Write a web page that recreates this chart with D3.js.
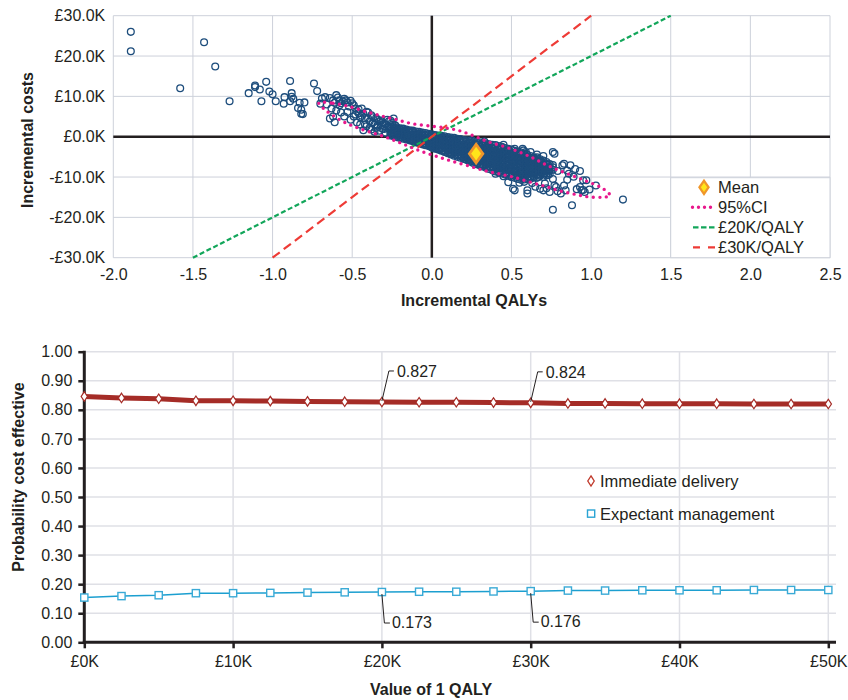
<!DOCTYPE html>
<html>
<head>
<meta charset="utf-8">
<script src="https://cdn.jsdelivr.net/npm/d3@7"></script>
<style>
  body { margin: 0; background: #fff; }
  svg { font-family: "Liberation Sans", Arial, sans-serif; }
  .tick text { fill: #231f20; font-size: 16px; }
  .title { font-weight: bold; font-size: 16px; fill: #231f20; }
</style>
</head>
<body>
<div id="chart"></div>
<script>
// ---------- data: cost-effectiveness plane ----------
// outlying simulations [incremental QALYs, incremental cost in £K]
var outliers = [
  [-1.89, 26.0], [-1.89, 21.2], [-1.43, 23.4], [-1.36, 17.4], [-1.58, 12.0], [-1.27, 8.8],
  [-1.15, 10.8], [-1.11, 12.7], [-1.11, 12.3], [-1.08, 11.7], [-1.07, 8.8], [-1.04, 13.6],
  [-1.02, 11.2], [-1.00, 10.5], [-0.98, 8.8], [-0.93, 8.2], [-0.925, 9.8], [-0.89, 13.8],
  [-0.88, 10.8], [-0.88, 9.9], [-0.89, 8.8], [-0.84, 7.1], [-0.83, 8.4], [-0.82, 6.7],
  [-0.81, 5.6], [-0.80, 8.5], [-0.74, 13.2], [-0.72, 11.3], [-0.87, 9.4], [-0.82, 5.7],
  [1.20, -15.6], [0.76, -18.1], [0.88, -17.0], [1.03, -12.1], [0.95, -13.2], [0.96, -13.7],
  [0.91, -13.0], [0.87, -7.1], [0.82, -7.1], [0.77, -4.2], [0.93, -8.5], [0.85, -8.4],
  [0.89, -9.9], [0.83, -12.1], [0.81, -14.1], [0.79, -13.5], [0.74, -13.7], [0.70, -13.3],
  [0.71, -11.6], [0.60, -14.1], [0.60, -13.3], [0.52, -13.3], [0.48, -11.3], [0.67, -10.0],
  [0.73, -9.5], [0.66, -5.1], [0.70, -4.8], [0.59, -3.8], [0.52, -3.0], [0.97, -10.8],
  [0.85, -10.7], [0.77, -12.1], [0.76, -3.8], [0.83, -6.7], [0.90, -8.0], [0.51, -12.9],
  [0.68, -12.9], [0.78, -12.5], [0.84, -13.3], [0.93, -12.5], [0.95, -10.8], [0.94, -13.3],
  [0.99, -13.1], [0.575, -3.4], [0.25, -0.8], [0.33, -1.2], [0.45, -2.0], [0.57, -3.0],
  [0.62, -3.8], [0.66, -4.4], [0.79, -8.5], [0.86, -9.2], [0.76, -10.5], [0.72, -12.8],
  [0.63, -11.5], [0.65, -12.4], [0.58, -11.2], [0.55, -11.4], [0.45, -9.8], [0.40, -9.2]
];

// moderately dense band left of the origin
var bandLeft = [
  [-0.70, 8.2], [-0.69, 9.5], [-0.67, 9.8], [-0.66, 8.0], [-0.64, 4.5], [-0.63, 7.0],
  [-0.62, 9.0], [-0.61, 3.6], [-0.60, 10.3], [-0.59, 9.7], [-0.58, 7.8], [-0.57, 6.0],
  [-0.56, 8.8], [-0.55, 5.0], [-0.54, 9.0], [-0.53, 6.1], [-0.52, 7.5], [-0.51, 4.2],
  [-0.50, 8.3], [-0.49, 7.8], [-0.48, 5.5], [-0.47, 3.5], [-0.46, 6.8], [-0.45, 4.8],
  [-0.44, 7.0], [-0.43, 5.7], [-0.43, 1.6], [-0.42, 3.0], [-0.41, 6.2], [-0.40, 4.5],
  [-0.39, 2.2], [-0.38, 5.3], [-0.37, 3.5], [-0.36, 1.2], [-0.35, 4.6], [-0.34, 2.8],
  [-0.33, 3.8], [-0.32, 4.0], [-0.31, 2.0], [-0.30, 3.2], [-0.29, 1.0], [-0.28, 4.2],
  [-0.27, 2.5], [-0.25, 3.5], [-0.24, 4.5], [-0.23, 2.8], [-0.55, 9.4], [-0.51, 8.9],
  [-0.49, 5.0], [-0.47, 6.3], [-0.45, 3.0], [-0.44, 5.2], [-0.42, 4.6], [-0.41, 2.6],
  [-0.40, 6.0], [-0.39, 3.8], [-0.38, 1.8], [-0.37, 4.8], [-0.36, 3.0], [-0.35, 2.2],
  [-0.34, 4.2], [-0.33, 1.5], [-0.32, 2.8], [-0.31, 3.6], [-0.30, 1.9], [-0.29, 3.0],
  [-0.28, 2.2], [-0.27, 3.8], [-0.26, 4.0], [-0.61, 8.4], [-0.58, 9.0], [-0.57, 8.3],
  [-0.53, 8.5], [-0.48, 7.0], [-0.46, 5.8], [-0.64, 9.6], [-0.62, 5.0], [-0.60, 6.5]
];

// dense core: [QALY, [costs in £K]]
var core = [
  [-0.26, [2.6, 2.0, 1.4, 0.9, 0.3]],
  [-0.24, [2.4, 2.1, 1.5, 1.0, 0.4, 0.1]],
  [-0.22, [2.3, 1.7, 1.1, 0.5, -0.1]],
  [-0.20, [2.1, 1.8, 1.2, 0.6, 0.0, -0.3]],
  [-0.18, [2.0, 1.4, 0.7, 0.1, -0.5]],
  [-0.16, [1.8, 1.5, 0.9, 0.2, -0.4, -0.7]],
  [-0.14, [1.6, 1.0, 0.4, -0.3, -0.9]],
  [-0.12, [1.5, 1.2, 0.5, -0.2, -0.8, -1.1]],
  [-0.10, [1.3, 0.6, 0.0, -0.7, -1.4]],
  [-0.08, [1.2, 0.8, 0.1, -0.6, -1.3, -1.6]],
  [-0.06, [1.0, 0.3, -0.4, -1.1, -1.9]],
  [-0.04, [0.9, 0.5, -0.3, -1.0, -1.7, -2.1]],
  [-0.02, [0.7, -0.1, -0.8, -1.6, -2.3]],
  [0.00, [0.6, 0.2, -0.5, -1.2, -1.8, -2.4, -2.7]],
  [0.02, [0.4, -0.3, -1.0, -1.7, -2.4, -3.0]],
  [0.04, [0.3, -0.1, -0.8, -1.5, -2.2, -2.9, -3.2]],
  [0.06, [0.2, -0.6, -1.3, -2.0, -2.8, -3.5]],
  [0.08, [0.1, -0.3, -1.1, -1.9, -2.7, -3.5, -3.8]],
  [0.10, [-0.1, -0.9, -1.7, -2.5, -3.3, -4.1]],
  [0.12, [-0.2, -0.6, -1.5, -2.3, -3.2, -4.0, -4.4]],
  [0.14, [-0.3, -1.2, -2.1, -2.9, -3.8, -4.7]],
  [0.16, [-0.5, -0.9, -1.6, -2.4, -3.1, -3.9, -4.6, -5.0]],
  [0.18, [-0.6, -1.4, -2.1, -2.9, -3.7, -4.5, -5.2]],
  [0.20, [-0.8, -1.2, -2.0, -2.8, -3.5, -4.3, -5.1, -5.5]],
  [0.22, [-0.9, -1.7, -2.5, -3.4, -4.2, -5.0, -5.8]],
  [0.24, [-1.0, -1.5, -2.3, -3.2, -4.0, -4.9, -5.7, -6.2]],
  [0.26, [-1.2, -2.1, -2.9, -3.8, -4.7, -5.6, -6.5]],
  [0.28, [-1.3, -1.8, -2.7, -3.6, -4.5, -5.4, -6.3, -6.8]],
  [0.30, [-1.4, -2.4, -3.3, -4.3, -5.2, -6.2, -7.1]],
  [0.32, [-1.6, -2.1, -3.0, -4.0, -5.0, -6.0, -6.9, -7.4]],
  [0.34, [-1.7, -2.6, -3.4, -4.3, -5.1, -6.0, -6.9, -7.7]],
  [0.36, [-1.9, -2.3, -3.2, -4.1, -4.9, -5.8, -6.7, -7.5, -8.0]],
  [0.38, [-2.0, -2.9, -3.8, -4.7, -5.6, -6.5, -7.4, -8.3]],
  [0.40, [-2.1, -2.6, -3.5, -4.4, -5.4, -6.3, -7.2, -8.1, -8.6]],
  [0.42, [-2.3, -3.2, -4.2, -5.1, -6.0, -7.0, -7.9, -8.9]],
  [0.44, [-2.5, -2.9, -3.9, -4.8, -5.8, -6.7, -7.7, -8.6, -9.1]],
  [0.46, [-2.8, -3.7, -4.6, -5.6, -6.5, -7.5, -8.4, -9.4]],
  [0.48, [-3.0, -3.4, -4.4, -5.3, -6.3, -7.2, -8.2, -9.2, -9.7]],
  [0.50, [-3.2, -4.2, -5.1, -6.1, -7.1, -8.0, -9.0, -10.0]],
  [0.52, [-3.5, -4.0, -4.9, -5.9, -6.8, -7.8, -8.7, -9.7, -10.2]],
  [0.54, [-3.7, -4.7, -5.7, -6.6, -7.6, -8.6, -9.5, -10.5]],
  [0.56, [-3.9, -4.4, -5.4, -6.3, -7.3, -8.3, -9.2, -10.2, -10.7]],
  [0.58, [-4.2, -5.1, -6.0, -7.0, -7.9, -8.8, -9.7, -10.6]],
  [0.60, [-4.5, -4.9, -5.8, -6.7, -7.6, -8.5, -9.4, -10.2, -10.5]],
  [0.62, [-4.8, -5.7, -6.5, -7.4, -8.2, -9.1, -9.9, -10.4]],
  [0.64, [-5.1, -5.5, -6.3, -7.2, -8.0, -8.8, -9.7, -10.1]],
  [0.66, [-5.4, -6.2, -7.0, -7.8, -8.6, -9.4, -10.2]],
  [0.68, [-5.6, -6.1, -6.9, -7.7, -8.5, -9.3, -9.7]],
  [0.70, [-5.9, -6.8, -7.6, -8.4, -9.2, -10.0]],
  [0.72, [-6.3, -6.8, -7.6, -8.4, -9.2, -9.6]],
  [0.74, [-6.8, -7.6, -8.4, -9.2]],
  [0.76, [-7.0, -7.6, -8.2]]
];

// interior of the core, between the columns above
var coreMid = [
  [-0.25, [1.7, 1.1, 0.6]], [-0.23, [1.9, 1.3, 0.7]], [-0.21, [1.6, 1.0, 0.3]],
  [-0.19, [1.6, 1.0, 0.4, -0.2]], [-0.17, [1.4, 0.8, 0.1]], [-0.15, [1.3, 0.6, 0.0, -0.5]],
  [-0.13, [1.1, 0.4, -0.2, -0.7]], [-0.11, [0.9, 0.2, -0.4, -1.0]], [-0.09, [0.8, 0.1, -0.6, -1.2]],
  [-0.07, [0.6, -0.1, -0.8, -1.5]], [-0.05, [0.5, -0.3, -1.0, -1.7]], [-0.03, [0.3, -0.4, -1.2, -1.9]],
  [-0.01, [0.2, -0.5, -1.3, -2.0, -2.4]], [0.01, [0.1, -0.7, -1.4, -2.1, -2.7]],
  [0.03, [-0.1, -0.8, -1.6, -2.3, -2.9]], [0.05, [-0.2, -1.0, -1.8, -2.6, -3.2]],
  [0.07, [-0.3, -1.1, -2.0, -2.8, -3.5]], [0.09, [-0.5, -1.3, -2.2, -3.0, -3.8]],
  [0.11, [-0.6, -1.5, -2.4, -3.2, -4.0]], [0.13, [-0.8, -1.6, -2.5, -3.4, -4.3]],
  [0.15, [-0.9, -1.8, -2.7, -3.6, -4.5]], [0.17, [-1.0, -1.9, -2.8, -3.7, -4.6]],
  [0.19, [-1.2, -2.1, -3.0, -3.9, -4.8]], [0.21, [-1.3, -2.2, -3.1, -4.0, -4.9, -5.5]],
  [0.23, [-1.5, -2.4, -3.3, -4.2, -5.1, -5.8]], [0.25, [-1.6, -2.5, -3.5, -4.4, -5.3, -6.0]],
  [0.27, [-1.8, -2.7, -3.6, -4.6, -5.6, -6.3]], [0.29, [-1.9, -2.9, -3.8, -4.8, -5.8, -6.6]],
  [0.31, [-2.1, -3.0, -4.0, -5.0, -6.0, -6.9]], [0.33, [-2.2, -3.2, -4.2, -5.2, -6.2, -7.1]],
  [0.35, [-2.4, -3.4, -4.4, -5.4, -6.4, -7.3]], [0.37, [-2.6, -3.6, -4.6, -5.6, -6.6, -7.6]],
  [0.39, [-2.7, -3.7, -4.8, -5.9, -6.9, -7.9]], [0.41, [-2.9, -3.9, -5.0, -6.1, -7.2, -8.2]],
  [0.43, [-3.1, -4.1, -5.2, -6.3, -7.4, -8.5]], [0.45, [-3.3, -4.4, -5.4, -6.5, -7.6, -8.7]],
  [0.47, [-3.5, -4.6, -5.6, -6.7, -7.8, -8.9]], [0.49, [-3.7, -4.8, -5.8, -6.9, -8.0, -9.2]],
  [0.51, [-4.0, -5.0, -6.1, -7.2, -8.3, -9.4]], [0.53, [-4.2, -5.3, -6.3, -7.4, -8.5, -9.6]],
  [0.55, [-4.4, -5.5, -6.5, -7.6, -8.7, -9.8]], [0.57, [-4.7, -5.7, -6.7, -7.8, -8.8, -9.8]],
  [0.59, [-5.0, -5.9, -6.9, -7.9, -8.9, -9.8]], [0.61, [-5.3, -6.2, -7.1, -8.0, -9.0, -9.8]],
  [0.63, [-5.5, -6.4, -7.3, -8.2, -9.1]], [0.65, [-5.8, -6.7, -7.5, -8.4, -9.2]],
  [0.67, [-6.1, -6.9, -7.7, -8.5, -9.3]], [0.69, [-6.3, -7.1, -7.9, -8.7]],
  [0.71, [-6.6, -7.4, -8.2, -9.0]], [0.73, [-7.0, -7.8, -8.6]]
];

// 95% confidence ellipse outline [QALY, £K]
var ciOutline = [
  [-0.71, 8.4], [-0.62, 8.3], [-0.53, 7.6], [-0.42, 6.3], [-0.32, 5.2], [-0.22, 4.2],
  [-0.12, 3.2], [0.0, 2.6], [0.10, 2.1], [0.18, 1.4], [0.27, 0.1], [0.35, -1.2],
  [0.45, -2.4], [0.55, -3.8], [0.64, -5.4], [0.72, -7.0], [0.82, -8.7], [0.93, -10.4],
  [1.02, -11.8], [1.08, -13.0], [1.12, -14.6], [1.07, -15.0], [0.98, -14.9], [0.90, -14.3],
  [0.80, -13.4], [0.72, -12.4], [0.62, -11.3], [0.51, -10.0], [0.42, -9.2], [0.33, -8.4],
  [0.22, -7.1], [0.12, -6.0], [0.04, -5.0], [-0.04, -4.0], [-0.12, -2.8], [-0.20, -1.5],
  [-0.27, -0.4], [-0.36, 0.8], [-0.46, 2.1], [-0.55, 3.6], [-0.63, 5.5], [-0.68, 7.0]
];

var meanPoint = [0.278, -4.2];
var thresholds = [20000, 30000];   // £ per QALY
var qalyTicks = [-2.0, -1.5, -1.0, -0.5, 0.0, 0.5, 1.0, 1.5, 2.0, 2.5];
var costTicks = [-30000, -20000, -10000, 0, 10000, 20000, 30000];

// ---------- data: acceptability curve ----------
var wtp = [0, 2500, 5000, 7500, 10000, 12500, 15000, 17500, 20000, 22500, 25000,
           27500, 30000, 32500, 35000, 37500, 40000, 42500, 45000, 47500, 50000];
var immediate = [0.846, 0.841, 0.838, 0.831, 0.831, 0.830, 0.829, 0.828, 0.827, 0.826, 0.826,
                 0.825, 0.824, 0.822, 0.822, 0.821, 0.821, 0.821, 0.820, 0.820, 0.820];
var expectant = [0.154, 0.159, 0.162, 0.169, 0.169, 0.170, 0.171, 0.172, 0.173, 0.174, 0.174,
                 0.175, 0.176, 0.178, 0.178, 0.179, 0.179, 0.179, 0.180, 0.180, 0.180];
var probTicks = [0, 0.1, 0.2, 0.3, 0.4, 0.5, 0.6, 0.7, 0.8, 0.9, 1.0];
var wtpTicks = [0, 10000, 20000, 30000, 40000, 50000];
var callouts = [20000, 30000];

var svg = d3.select("#chart").append("svg")
  .attr("width", 848)
  .attr("height", 700);

// ================= top chart =================
var x1 = d3.scaleLinear().domain([-2, 2.5]).range([113.3, 830]);
var y1 = d3.scaleLinear().domain([-30000, 30000]).range([257.7, 15.7]);
var planeGroup = svg.append("g");

// grid
planeGroup.append("g").selectAll("line").data(qalyTicks).enter().append("line")
  .attr("x1", d => x1(d)).attr("x2", d => x1(d))
  .attr("y1", y1(30000)).attr("y2", y1(-30000))
  .attr("stroke", "#cdd1da").attr("stroke-width", 1);
planeGroup.append("g").selectAll("line").data(costTicks).enter().append("line")
  .attr("x1", x1(-2)).attr("x2", x1(2.5))
  .attr("y1", d => y1(d)).attr("y2", d => y1(d))
  .attr("stroke", "#cdd1da").attr("stroke-width", 1);

// zero axes
planeGroup.append("line").attr("x1", x1(-2)).attr("x2", x1(2.5))
  .attr("y1", y1(0)).attr("y2", y1(0)).attr("stroke", "#231f20").attr("stroke-width", 2.5);
planeGroup.append("line").attr("x1", x1(0)).attr("x2", x1(0))
  .attr("y1", y1(30000)).attr("y2", y1(-30000)).attr("stroke", "#231f20").attr("stroke-width", 2.5);

// tick labels
var xAxisTop = planeGroup.append("g")
  .attr("transform", `translate(0, ${y1(-30000)})`)
  .call(d3.axisBottom(x1).tickValues(qalyTicks).tickSize(0).tickPadding(11)
    .tickFormat(d => d.toFixed(1)));
var yAxisTop = planeGroup.append("g")
  .attr("transform", `translate(${x1(-2)}, 0)`)
  .call(d3.axisLeft(y1).tickValues(costTicks).tickSize(0).tickPadding(8)
    .tickFormat(d => (d < 0 ? "-" : "") + "£" + (Math.abs(d) / 1000).toFixed(1) + "K"));
xAxisTop.select(".domain").remove();
yAxisTop.select(".domain").remove();

// scatter
var points = outliers.concat(bandLeft);
core.concat(coreMid).forEach(function(col) {
  col[1].forEach(function(c) { points.push([col[0], c]); });
});
planeGroup.append("g").selectAll("circle").data(points).enter().append("circle")
  .attr("cx", d => x1(d[0]))
  .attr("cy", d => y1(d[1] * 1000))
  .attr("r", 3.4)
  .attr("fill", "none")
  .attr("stroke", "#1d4d7c")
  .attr("stroke-width", 1.3);

// threshold lines (cost = wtp * QALY), clipped to the cost range
var thrColors = ["#12a65a", "#ee3b36"];
var thrDash = ["5,2.6", "9,5"];
thresholds.forEach(function(t, i) {
  var q = 30000 / t;
  planeGroup.append("line")
    .attr("x1", x1(-q)).attr("y1", y1(-30000))
    .attr("x2", x1(q)).attr("y2", y1(30000))
    .attr("stroke", thrColors[i]).attr("stroke-width", 2.2)
    .attr("stroke-dasharray", thrDash[i]);
});

// 95% CI
var ciLine = d3.line()
  .x(d => x1(d[0])).y(d => y1(d[1] * 1000))
  .curve(d3.curveCatmullRomClosed);
planeGroup.append("path").datum(ciOutline)
  .attr("d", ciLine)
  .attr("fill", "none")
  .attr("stroke", "#e8188c").attr("stroke-width", 3.4)
  .attr("stroke-linecap", "round").attr("stroke-dasharray", "0,6.5");

// mean
var diamond = d3.symbol().type(d3.symbolDiamond);
planeGroup.append("path")
  .attr("d", diamond.size(100)())
  .attr("transform", `translate(${x1(meanPoint[0])}, ${y1(meanPoint[1] * 1000)}) scale(1.25,1)`)
  .attr("fill", "#ffe51a").attr("stroke", "#f0962a").attr("stroke-width", 2.4);

// legend
var lg = planeGroup.append("g");
lg.append("rect").attr("x", 670.7).attr("y", 177.7).attr("width", 830 - 670.7).attr("height", 80)
  .attr("fill", "#fff").attr("stroke", "#cdd1da");
lg.append("path").attr("d", diamond.size(50)())
  .attr("transform", "translate(704, 187.3) scale(1.2,1)")
  .attr("fill", "#ffe51a").attr("stroke", "#f0962a").attr("stroke-width", 2);
lg.append("line").attr("x1", 692.5).attr("x2", 716).attr("y1", 207.3).attr("y2", 207.3)
  .attr("stroke", "#e8188c").attr("stroke-width", 3.4)
  .attr("stroke-linecap", "round").attr("stroke-dasharray", "0,6");
thresholds.forEach(function(t, i) {
  lg.append("line").attr("x1", 693).attr("x2", 717)
    .attr("y1", 227.3 + i * 20).attr("y2", 227.3 + i * 20)
    .attr("stroke", thrColors[i]).attr("stroke-width", 2.2)
    .attr("stroke-dasharray", i === 0 ? "5.5,2.5" : "7,8");
});
var legendLabels = ["Mean", "95%CI"].concat(thresholds.map(t => "£" + t / 1000 + "K/QALY"));
lg.selectAll("text").data(legendLabels).enter().append("text")
  .attr("x", 718).attr("y", (d, i) => 193 + i * 20)
  .attr("font-size", "16.5px").attr("fill", "#231f20")
  .text(d => d);

// titles
planeGroup.append("text").attr("class", "title")
  .attr("x", 474).attr("y", 306).attr("text-anchor", "middle")
  .text("Incremental QALYs");
planeGroup.append("text").attr("class", "title")
  .attr("transform", "translate(32.5, 140) rotate(-90)")
  .attr("text-anchor", "middle")
  .text("Incremental costs");

// ================= bottom chart =================
var x2 = d3.scaleLinear().domain([0, 50000]).range([84.3, 828.3]);
var y2 = d3.scaleLinear().domain([0, 1]).range([642.3, 351.7]);
var ceacGroup = svg.append("g");

ceacGroup.append("g").selectAll("line").data(probTicks.slice(1)).enter().append("line")
  .attr("x1", x2(0)).attr("x2", 836)
  .attr("y1", d => y2(d)).attr("y2", d => y2(d))
  .attr("stroke", "#dfe0e6").attr("stroke-width", 1.5);
ceacGroup.append("g").selectAll("line").data(wtpTicks.slice(1)).enter().append("line")
  .attr("x1", d => x2(d)).attr("x2", d => x2(d))
  .attr("y1", y2(1)).attr("y2", y2(0))
  .attr("stroke", "#dfe0e6").attr("stroke-width", 1.5);

var yAxisBot = ceacGroup.append("g")
  .attr("transform", `translate(${x2(0)}, 0)`)
  .call(d3.axisLeft(y2).tickValues(probTicks).tickSize(6).tickPadding(6)
    .tickFormat(d => d.toFixed(2)));
var xAxisBot = ceacGroup.append("g")
  .attr("transform", `translate(0, ${y2(0)})`)
  .call(d3.axisBottom(x2).tickValues(wtpTicks).tickSize(6).tickPadding(7)
    .tickFormat(d => "£" + d / 1000 + "K"));
yAxisBot.select(".domain").remove();
xAxisBot.select(".domain").remove();
ceacGroup.selectAll(".tick line").attr("stroke", "#231f20").attr("stroke-width", 2.5);
ceacGroup.append("line").attr("x1", x2(0)).attr("x2", x2(0))
  .attr("y1", y2(1) - 1).attr("y2", y2(0) + 1.2)
  .attr("stroke", "#231f20").attr("stroke-width", 3);
ceacGroup.append("line").attr("x1", x2(0) - 1.5).attr("x2", 836)
  .attr("y1", y2(0)).attr("y2", y2(0))
  .attr("stroke", "#231f20").attr("stroke-width", 3);

var curve = d3.line().x((d, i) => x2(wtp[i])).y(d => y2(d));

// immediate delivery
ceacGroup.append("path").datum(immediate)
  .attr("d", curve).attr("fill", "none")
  .attr("stroke", "#a52c27").attr("stroke-width", 5).attr("stroke-linejoin", "round");
ceacGroup.append("g").selectAll("path").data(immediate).enter().append("path")
  .attr("d", diamond.size(26)())
  .attr("transform", (d, i) => `translate(${x2(wtp[i])}, ${y2(d)}) scale(1.15,1)`)
  .attr("fill", "#fff").attr("stroke", "#a52c27").attr("stroke-width", 1.1);

// expectant management
ceacGroup.append("path").datum(expectant)
  .attr("d", curve).attr("fill", "none")
  .attr("stroke", "#1c9fd0").attr("stroke-width", 1.5);
ceacGroup.append("g").selectAll("rect").data(expectant).enter().append("rect")
  .attr("x", (d, i) => x2(wtp[i]) - 3.6).attr("y", d => y2(d) - 3.6)
  .attr("width", 7.2).attr("height", 7.2)
  .attr("fill", "#fff").attr("stroke", "#3aaad6").attr("stroke-width", 1.4);

// call-outs
callouts.forEach(function(w) {
  var i = wtp.indexOf(w);
  var px = x2(w);
  var yi = y2(immediate[i]);
  var ye = y2(expectant[i]);
  ceacGroup.append("path")
    .attr("d", `M${px},${yi - 1} L${px + 7},${yi - 31} L${px + 12},${yi - 31}`)
    .attr("fill", "none").attr("stroke", "#231f20").attr("stroke-width", 1);
  ceacGroup.append("text").attr("x", px + 15).attr("y", yi - 25)
    .attr("font-size", "16px").attr("fill", "#231f20")
    .text(immediate[i].toFixed(3));
  ceacGroup.append("path")
    .attr("d", `M${px},${ye + 2} L${px + 2.5},${ye + 31} L${px + 8},${ye + 31}`)
    .attr("fill", "none").attr("stroke", "#231f20").attr("stroke-width", 1);
  ceacGroup.append("text").attr("x", px + 10).attr("y", ye + 36)
    .attr("font-size", "16px").attr("fill", "#231f20")
    .text(expectant[i].toFixed(3));
});

// legend
ceacGroup.append("path").attr("d", diamond.size(30)())
  .attr("transform", "translate(591, 481) scale(1.1,1)")
  .attr("fill", "#fff").attr("stroke", "#c0392b").attr("stroke-width", 1.2);
ceacGroup.append("rect").attr("x", 587.5).attr("y", 510).attr("width", 7.2).attr("height", 7.2)
  .attr("fill", "#fff").attr("stroke", "#2aa4d4").attr("stroke-width", 1.4);
ceacGroup.append("text").attr("x", 600).attr("y", 486.5)
  .attr("font-size", "16.5px").attr("fill", "#231f20").text("Immediate delivery");
ceacGroup.append("text").attr("x", 600).attr("y", 519.5)
  .attr("font-size", "16.5px").attr("fill", "#231f20").text("Expectant management");

// titles
ceacGroup.append("text").attr("class", "title")
  .attr("x", 431).attr("y", 695).attr("text-anchor", "middle")
  .text("Value of 1 QALY");
ceacGroup.append("text").attr("class", "title")
  .attr("transform", "translate(24, 477) rotate(-90)")
  .attr("text-anchor", "middle")
  .text("Probability cost effective");
</script>
</body>
</html>
